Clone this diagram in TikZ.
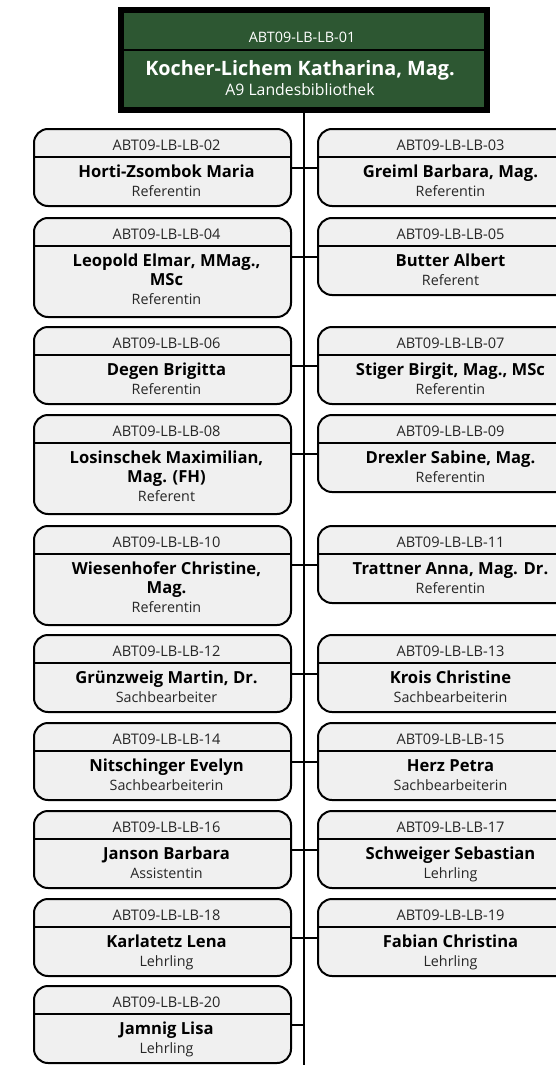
\documentclass[tikz,border=0pt]{standalone}
\usepackage{fontspec}
\setmainfont{Open Sans}
\definecolor{topgreen}{RGB}{45,87,50}
\definecolor{boxfill}{RGB}{240,240,240}
\tikzset{
  empbox/.style={draw=black, line width=2pt, fill=boxfill, rounded corners=14pt,
    minimum width=257pt, outer sep=0pt, inner sep=0pt, anchor=north},
  topbox/.style={draw=black, line width=6pt, fill=topgreen, minimum width=365.5pt,
    minimum height=100.3pt, outer sep=0pt, inner sep=0pt},
  divider/.style={line width=1.3pt},
  idtext/.style={font=\fontsize{14.6}{17}\selectfont, inner sep=0pt, text=black!85, anchor=base},
  nametext/.style={font=\bfseries\fontsize{16.6}{19}\selectfont, inner sep=0pt, anchor=base},
  roletext/.style={font=\fontsize{14.3}{17}\selectfont, inner sep=0pt, text=black!85, anchor=base},
  conn/.style={line width=1.8pt},
  spine/.style={line width=1.5pt},
}
% #1 name, #2 centre x, #3 outer top y, #4 path height, #5 id, #6 name line 1, #7 name line 2, #8 role
\newcommand\emp[8]{%
  \node[empbox, minimum height=#4pt] (#1) at ({#2},{#3+1}) {};
  \draw[divider] ([yshift=-28pt]#1.north west) -- ([yshift=-28pt]#1.north east);
  \node[idtext] (#1-id) at ([xshift=4pt,yshift=-21.5pt]#1.north) {#5};
  \node[nametext] (#1-n1) at ([xshift=4pt,yshift=-48.5pt]#1.north) {#6};
  \ifx&#7&%
    \node[roletext] (#1-role) at ([xshift=4pt,yshift=-67pt]#1.north) {#8};
  \else
    \node[nametext] (#1-n2) at ([xshift=4pt,yshift=-67.5pt]#1.north) {#7};
    \node[roletext] (#1-role) at ([xshift=4pt,yshift=-86.5pt]#1.north) {#8};
  \fi
  \coordinate (#1-e) at ([yshift=-39pt]#1.north east);
  \coordinate (#1-w) at ([yshift=-39pt]#1.north west);
}
\begin{document}
\begin{tikzpicture}[x=1pt,y=-1pt]
\path[use as bounding box] (0,0) rectangle (556,1065);
\clip (0,0) rectangle (556,1065);

% head
\node[topbox] (top) at (303.75,59.85) {};
\draw[divider] ([yshift=-40.3pt]top.north west) -- ([yshift=-40.3pt]top.north east);
\node[idtext, text=white, font=\fontsize{14.4}{17}\selectfont] (top-id) at (302,43) {ABT09-LB-LB-01};
\node[nametext, text=white, font=\bfseries\fontsize{19.8}{23}\selectfont] (top-name) at (300,75) {Kocher-Lichem Katharina, Mag.};
\node[roletext, text=white, font=\fontsize{15.8}{18}\selectfont] (top-role) at (300,95.5) {A9 Landesbibliothek};

\coordinate (spineend) at (303.75,1065);
\draw[spine] (top.south) -- (top.south |- spineend);

% left column x=162.5, right column x=446.5
\emp{L02}{162.5}{128}{77}{ABT09-LB-LB-02}{Horti-Zsombok Maria}{}{Referentin}
\emp{R03}{446.5}{128}{77}{ABT09-LB-LB-03}{Greiml Barbara, Mag.}{}{Referentin}
\emp{L04}{162.5}{217}{99}{ABT09-LB-LB-04}{Leopold Elmar, MMag.,}{MSc}{Referentin}
\emp{R05}{446.5}{217}{77}{ABT09-LB-LB-05}{Butter Albert}{}{Referent}
\emp{L06}{162.5}{326}{77}{ABT09-LB-LB-06}{Degen Brigitta}{}{Referentin}
\emp{R07}{446.5}{326}{77}{ABT09-LB-LB-07}{Stiger Birgit, Mag., MSc}{}{Referentin}
\emp{L08}{162.5}{414}{99}{ABT09-LB-LB-08}{Losinschek Maximilian,}{Mag. (FH)}{Referent}
\emp{R09}{446.5}{414}{77}{ABT09-LB-LB-09}{Drexler Sabine, Mag.}{}{Referentin}
\emp{L10}{162.5}{525}{99}{ABT09-LB-LB-10}{Wiesenhofer Christine,}{Mag.}{Referentin}
\emp{R11}{446.5}{525}{77}{ABT09-LB-LB-11}{Trattner Anna, Mag. Dr.}{}{Referentin}
\emp{L12}{162.5}{634}{77}{ABT09-LB-LB-12}{Grünzweig Martin, Dr.}{}{Sachbearbeiter}
\emp{R13}{446.5}{634}{77}{ABT09-LB-LB-13}{Krois Christine}{}{Sachbearbeiterin}
\emp{L14}{162.5}{722}{77}{ABT09-LB-LB-14}{Nitschinger Evelyn}{}{Sachbearbeiterin}
\emp{R15}{446.5}{722}{77}{ABT09-LB-LB-15}{Herz Petra}{}{Sachbearbeiterin}
\emp{L16}{162.5}{810}{77}{ABT09-LB-LB-16}{Janson Barbara}{}{Assistentin}
\emp{R17}{446.5}{810}{77}{ABT09-LB-LB-17}{Schweiger Sebastian}{}{Lehrling}
\emp{L18}{162.5}{898}{77}{ABT09-LB-LB-18}{Karlatetz Lena}{}{Lehrling}
\emp{R19}{446.5}{898}{77}{ABT09-LB-LB-19}{Fabian Christina}{}{Lehrling}
\emp{L20}{162.5}{985}{77}{ABT09-LB-LB-20}{Jamnig Lisa}{}{Lehrling}

% connectors
\foreach \b in {L02,L04,L06,L08,L10,L12,L14,L16,L18,L20}
  \draw[conn] (\b-e) -- (\b-e -| top.south);
\foreach \b in {R03,R05,R07,R09,R11,R13,R15,R17,R19}
  \draw[conn] (\b-w) -- (\b-w -| top.south);
\end{tikzpicture}
\end{document}
